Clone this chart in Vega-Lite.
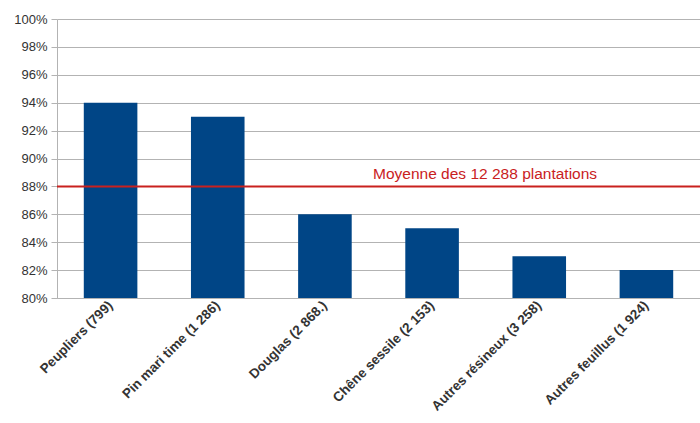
{
  "$schema": "https://vega.github.io/schema/vega-lite/v6.json",
  "autosize": "none",
  "width": 643,
  "height": 279,
  "padding": {"left": 57, "top": 19, "right": 0, "bottom": 125},
  "background": "white",
  "config": {
    "view": {"stroke": null},
    "font": "Liberation Sans"
  },
  "datasets": {
    "bars": [
      {"espece": "Peupliers (799)", "taux": 0.94},
      {"espece": "Pin mari time (1 286)", "taux": 0.93},
      {"espece": "Douglas (2 868.)", "taux": 0.86},
      {"espece": "Chêne sessile (2 153)", "taux": 0.85},
      {"espece": "Autres résineux (3 258)", "taux": 0.83},
      {"espece": "Autres feuillus (1 924)", "taux": 0.82}
    ],
    "moyenne": [
      {"label": "Moyenne des 12 288 plantations", "valeur": 0.88, "espece": "Chêne sessile (2 153)"}
    ]
  },
  "layer": [
    {
      "data": {"name": "bars"},
      "mark": {"type": "bar", "color": "#004586"},
      "encoding": {
        "x": {
          "field": "espece", "type": "nominal",
          "sort": ["Peupliers (799)", "Pin mari time (1 286)", "Douglas (2 868.)", "Chêne sessile (2 153)", "Autres résineux (3 258)", "Autres feuillus (1 924)"],
          "scale": {"paddingInner": 0.5, "paddingOuter": 0.25},
          "axis": {
            "title": null, "labelAngle": -45, "labelAlign": "right", "labelBaseline": "middle",
            "labelFontSize": 13.5, "labelFontWeight": "bold", "labelColor": "#333333",
            "domainColor": "#b3b3b3", "ticks": false, "labelPadding": 5
          }
        },
        "y": {
          "field": "taux", "type": "quantitative",
          "scale": {"domain": [0.8, 1.0], "zero": false, "nice": false},
          "axis": {
            "title": null, "format": ".0%", "values": [0.8,0.82,0.84,0.86,0.88,0.9,0.92,0.94,0.96,0.98,1.0],
            "labelOverlap": false,
            "labelFontSize": 13, "labelColor": "#333333", "labelPadding": 4,
            "gridColor": "#b3b3b3", "tickColor": "#b3b3b3", "tickSize": 6,
            "domainColor": "#b3b3b3"
          }
        },
        "y2": {"datum": 0.8}
      }
    },
    {
      "data": {"name": "moyenne"},
      "mark": {"type": "rule", "color": "#c9211e", "strokeWidth": 2},
      "encoding": {
        "y": {
          "field": "valeur", "type": "quantitative",
          "axis": {
            "title": null, "format": ".0%", "values": [0.8,0.82,0.84,0.86,0.88,0.9,0.92,0.94,0.96,0.98,1.0],
            "labelOverlap": false,
            "labelFontSize": 13, "labelColor": "#333333", "labelPadding": 4,
            "gridColor": "#b3b3b3", "tickColor": "#b3b3b3", "tickSize": 6,
            "domainColor": "#b3b3b3"
          }
        }
      }
    },
    {
      "data": {"name": "moyenne"},
      "mark": {"type": "text", "color": "#c9211e", "fontSize": 15.5, "align": "center", "baseline": "bottom", "dy": -4, "dx": 53},
      "encoding": {
        "x": {
          "field": "espece", "type": "nominal",
          "sort": ["Peupliers (799)", "Pin mari time (1 286)", "Douglas (2 868.)", "Chêne sessile (2 153)", "Autres résineux (3 258)", "Autres feuillus (1 924)"]
        },
        "y": {
          "field": "valeur", "type": "quantitative",
          "axis": {
            "title": null, "format": ".0%", "values": [0.8,0.82,0.84,0.86,0.88,0.9,0.92,0.94,0.96,0.98,1.0],
            "labelOverlap": false,
            "labelFontSize": 13, "labelColor": "#333333", "labelPadding": 4,
            "gridColor": "#b3b3b3", "tickColor": "#b3b3b3", "tickSize": 6,
            "domainColor": "#b3b3b3"
          }
        },
        "text": {"field": "label"}
      }
    }
  ]
}
